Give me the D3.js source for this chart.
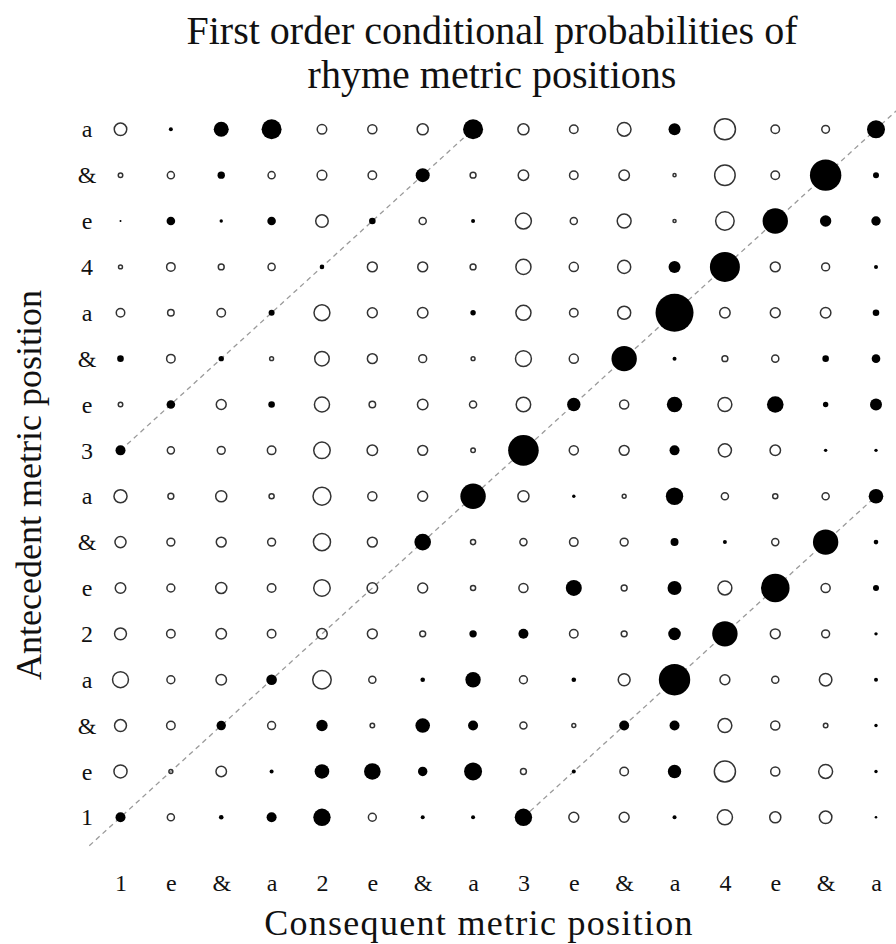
<!DOCTYPE html>
<html>
<head>
<meta charset="utf-8">
<script src="https://cdn.jsdelivr.net/npm/d3@7"></script>
<style>
  html, body { margin: 0; padding: 0; background: #fff; }
  svg { display: block; font-family: "Liberation Serif", "Times New Roman", serif; }
</style>
</head>
<body>
<svg id="chart" width="896" height="944"></svg>
<script>
// Metric positions (index 1..16), same order on both axes
const positions = ["1","e","&","a","2","e","&","a","3","e","&","a","4","e","&","a"];

// Signed marker sizes per antecedent row (bottom "1" to top "a"), per consequent column.
// Positive = filled (above expectation), negative = open (below expectation).
const row01 = [5, -4.3, 2.3, 5, 8.7, -4.7, 2, 2, 8.7, -5.7, -5.7, 2, -8.3, -6.3, -7, 1.3];
const row02 = [-7.3, -2.7, -6, 2, 7.3, 8.3, 4.7, 9, -3.7, 2, -5, 6.7, -11.3, -5.3, -7.7, 1.7];
const row03 = [-6.7, -5, 4.7, -4.7, 5.7, -3, 7.3, 5, -4.3, -2.7, 5, 5, -7.7, -5.3, -3, 1.7];
const row04 = [-8.7, -4.7, -6, 5.3, -10, -4.3, 2.3, 7.7, -4.7, 2.3, -6.7, 15.7, -5.7, -4.3, -7, 2];
const row05 = [-6.7, -5, -6, -5, -6, -5.7, -3.7, 3.7, 5, -5, -3.7, 6.3, 12.7, -5.7, -4.7, 1.7];
const row06 = [-6, -4.7, -6.3, -5, -9, -6, -5.7, -3.3, -5.3, 8, -3.7, 7, -7.7, 14.3, -5.3, 3];
const row07 = [-6.3, -4.7, -5.7, -4.7, -9.3, -5.7, 8.3, -3.3, -4.3, -5, -4.7, 4, 2, -4.3, 12.7, 2.3];
const row08 = [-7.3, -3.7, -6.3, -3.3, -9.7, -5.3, -5.7, 12.7, -6.3, 1.7, -2.7, 8.7, -4.3, -3.3, -4.3, 7.3];
const row09 = [5, -4.3, -4.7, -5, -9, -6, -5.7, -3, 15.3, -5.3, -5.7, 5, -7.3, -6, 1.7, 1.7];
const row10 = [-3, 4.3, -5.7, 3.3, -8.3, -4, -6, -4.3, -8, 6.7, -5.3, 7.7, -7.7, 8.3, 2.7, 6];
const row11 = [3.3, -5, 2.7, -2.7, -8, -5.7, -4.7, -2.7, -8.7, -5.3, 12.7, 2, -3.7, -4.3, 3.3, 4.3];
const row12 = [-5, -4, -5, 3, -8.7, -5.7, -6, 2.7, -8.3, -5, -7.3, 19, -6, -5.7, -6, 3.3];
const row13 = [-2.7, -5, -3.7, -4.3, 2.3, -5.7, -5.7, -3.7, -8.3, -5.3, -7.3, 6, 15, -5.7, -4.7, 2];
const row14 = [1, 4.3, 1.7, 4.3, -7, 3.3, -4.3, 2, -8.7, -4.3, -7.7, -2.3, -10, 12.7, 5.7, 4.7];
const row15 = [-3, -4.3, 3.7, -4.3, -5.6, -5, 7, -3.7, -6, -5, -6, -2.3, -11, -5, 15.7, 3];
const row16 = [-7, 2, 7.5, 10, -5.5, -5.3, -6.3, 10, -6.3, -5, -7.6, 6, -11.3, -5, -4.6, 9];
const rows = [row01,row02,row03,row04,row05,row06,row07,row08,row09,row10,row11,row12,row13,row14,row15,row16];

// Reference diagonals (data units: consequent index, antecedent index)
const diagonals = [
  {x0: 0.38, y0: 0.38, x1: 16.62, y1: 16.62},
  {x0: 1, y0: 9, x1: 8, y1: 16},
  {x0: 9, y0: 1, x1: 16, y1: 8}
];

const titleLines = ["First order conditional probabilities of", "rhyme metric positions"];
const xTitle = "Consequent metric position";
const yTitle = "Antecedent metric position";

const svg = d3.select("#chart");
const x = d3.scaleLinear().domain([1, 16]).range([120.5, 876]);
const y = d3.scaleLinear().domain([1, 16]).range([817.3, 129.3]);
const r = d3.scaleLinear().domain([0, 20]).range([0, 20]);
const sw = 1.5;

// diagonals
svg.append("g").selectAll("line").data(diagonals).join("line")
  .attr("x1", d => x(d.x0)).attr("y1", d => y(d.y0))
  .attr("x2", d => x(d.x1)).attr("y2", d => y(d.y1))
  .attr("stroke", "#9a9a9a").attr("stroke-width", 1.3)
  .attr("stroke-dasharray", "5,4");

// cells
const cells = [];
rows.forEach((row, i) => row.forEach((v, j) => cells.push({ant: i + 1, con: j + 1, v})));
svg.append("g").selectAll("circle").data(cells).join("circle")
  .attr("cx", d => x(d.con)).attr("cy", d => y(d.ant))
  .attr("r", d => d.v > 0 ? r(d.v) : Math.max(0.5, r(-d.v) - sw / 2))
  .attr("fill", d => d.v > 0 ? "#000" : "none")
  .attr("stroke", d => d.v > 0 ? "none" : "#333")
  .attr("stroke-width", sw);

// axes
const idx = d3.range(1, 17);
const xAxis = svg.append("g").attr("transform", "translate(0,870)")
  .call(d3.axisBottom(x).tickValues(idx).tickFormat(i => positions[i - 1]).tickSize(0).tickPadding(4));
xAxis.select(".domain").remove();
xAxis.selectAll("text").attr("font-size", 24).attr("font-family", "Liberation Serif").attr("fill", "#111");

const yAxis = svg.append("g").attr("transform", "translate(100,0)")
  .call(d3.axisLeft(y).tickValues(idx).tickFormat(i => positions[i - 1]).tickSize(0).tickPadding(13));
yAxis.select(".domain").remove();
yAxis.selectAll("text").attr("font-size", 24).attr("font-family", "Liberation Serif")
  .attr("text-anchor", "middle").attr("fill", "#111");

// titles
svg.append("text").attr("text-anchor", "middle").attr("font-size", 40).attr("fill", "#111")
  .selectAll("tspan").data(titleLines).join("tspan")
  .attr("x", 492).attr("y", (d, i) => 44 + i * 44).text(d => d);

svg.append("text").attr("text-anchor", "middle").attr("font-size", 36).attr("fill", "#111")
  .attr("letter-spacing", 1.3)
  .attr("x", 479).attr("y", 935).text(xTitle);

svg.append("text").attr("text-anchor", "middle").attr("font-size", 36).attr("fill", "#111")
  .attr("transform", "translate(41,485) rotate(-90)").text(yTitle);
</script>
</body>
</html>
